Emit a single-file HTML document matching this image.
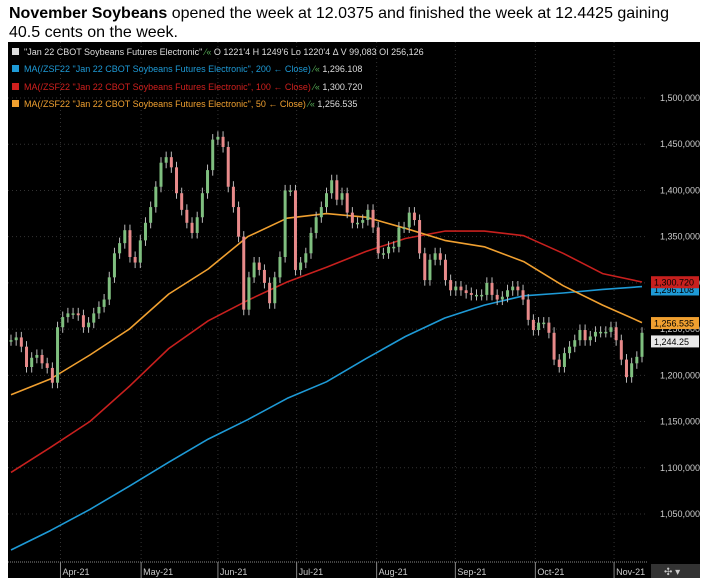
<!DOCTYPE html>
<html><head><meta charset="utf-8"><style>
body{margin:0;width:707px;height:586px;background:#fff;overflow:hidden;font-family:"Liberation Sans",Arial,sans-serif}
#title{position:absolute;left:9px;top:4px;font-size:16px;line-height:19px;color:#000;width:690px}
svg{position:absolute;left:0;top:0}
</style></head><body>
<div id="title"><b>November Soybeans</b> opened the week at 12.0375 and finished the week at 12.4425 gaining 40.5 cents on the week.</div>
<svg id="chart" width="707" height="586">
<rect x="8" y="42" width="692" height="536" fill="#000"/>
<g id="grid"></g>
<g id="mas"></g>
<g id="candles"></g>
<g id="yaxis"></g>
<g id="xaxis"></g>
<g font-size="9">
<g><rect x="12" y="48" width="7" height="7" fill="#ddd"/><text x="24" y="55" fill="#ddd">"Jan 22 CBOT Soybeans Futures Electronic" <tspan fill="#5a5">⁄«</tspan> O 1221'4  H 1249'6  Lo 1220'4  Δ    V 99,083  OI 256,126</text></g>
<g><rect x="12" y="65" width="7" height="7" fill="#1e9ad6"/><text x="24" y="72" fill="#1e9ad6">MA(/ZSF22 "Jan 22 CBOT Soybeans Futures Electronic", 200 ← Close) <tspan fill="#5a5">⁄«</tspan> <tspan fill="#ddd">1,296.108</tspan></text></g>
<g><rect x="12" y="83" width="7" height="7" fill="#d0201e"/><text x="24" y="90" fill="#d0201e">MA(/ZSF22 "Jan 22 CBOT Soybeans Futures Electronic", 100 ← Close) <tspan fill="#5a5">⁄«</tspan> <tspan fill="#ddd">1,300.720</tspan></text></g>
<g><rect x="12" y="100" width="7" height="7" fill="#f0a030"/><text x="24" y="107" fill="#f0a030">MA(/ZSF22 "Jan 22 CBOT Soybeans Futures Electronic", 50 ← Close) <tspan fill="#5a5">⁄«</tspan> <tspan fill="#ddd">1,256.535</tspan></text></g>
</g>
<g id="tags" font-size="9"></g>
<g><rect x="651" y="564" width="49" height="14" fill="#333"/><text x="664" y="575" fill="#ccc" font-size="10">✣  ▾</text></g>
</svg>
<script>
const yTicks=[1050,1100,1150,1200,1250,1300,1350,1400,1450,1500];
const months=["Apr-21","May-21","Jun-21","Jul-21","Aug-21","Sep-21","Oct-21","Nov-21"];
const monthPos=[0.082,0.208,0.328,0.451,0.576,0.699,0.824,0.947];
const closes=[1238,1241,1231,1209,1219,1222,1213,1208,1192,1252,1263,1267,1267,1265,1252,1257,1267,1274,1282,1306,1332,1343,1357,1328,1322,1346,1365,1382,1404,1430,1436,1425,1397,1379,1365,1354,1371,1397,1422,1455,1458,1447,1404,1382,1350,1271,1306,1322,1314,1300,1278,1306,1328,1400,1400,1314,1322,1332,1354,1371,1382,1397,1411,1390,1397,1376,1365,1365,1368,1379,1360,1332,1332,1339,1339,1360,1360,1376,1368,1332,1303,1325,1332,1325,1303,1292,1296,1292,1289,1287,1287,1287,1300,1287,1282,1285,1292,1296,1292,1282,1260,1249,1257,1257,1246,1217,1209,1224,1231,1238,1249,1238,1242,1247,1247,1247,1252,1238,1217,1198,1213,1220,1246];
const ma50=[1179,1196,1222,1250,1288,1315,1350,1370,1375,1371,1359,1346,1339,1323,1297,1276,1257];
const ma100=[1095,1122,1150,1188,1229,1259,1281,1301,1317,1334,1348,1356,1356,1351,1332,1310,1301];
const ma200=[1011,1032,1055,1080,1106,1131,1152,1175,1193,1218,1242,1262,1276,1286,1289,1293,1296];
const tagVals=[1300.72,1296.108,1256.535,1244.25];
const tagLabels=["1,300.720","1,296.108","1,256.535","1,244.25"];

const NS="http://www.w3.org/2000/svg";
const X0=11,X1=642;
const y=v=>98+(1500-v)*0.9244;
const xBar=i=>X0+i*(X1-X0)/(closes.length-1);
const xMA=(i,n)=>X0+i*(X1-X0)/(n-1);
const xFrac=f=>8+f*640;
function mk(t,a,p){const e=document.createElementNS(NS,t);for(const k in a)e.setAttribute(k,a[k]);p.appendChild(e);return e;}
const grid=document.getElementById('grid'),ya=document.getElementById('yaxis'),xa=document.getElementById('xaxis');
yTicks.forEach(v=>{
 const l=mk('line',{x1:8,x2:648,y1:y(v),y2:y(v),stroke:'#333','stroke-dasharray':'1,3'},grid);
 
 
 const t=mk('text',{x:660,y:y(v)+3,fill:'#ccc','font-size':'9'},ya);
 t.textContent=(v*1000).toLocaleString('en-US');
 
 
});
mk('line',{x1:8,x2:648,y1:562,y2:562,stroke:'#888','stroke-dasharray':'1,1'},xa);
months.forEach((m,i)=>{
 const x=xFrac(monthPos[i]);
 const l=mk('line',{x1:x,x2:x,y1:42,y2:560,stroke:'#333','stroke-dasharray':'1,3'},grid);
 
 
 mk('line',{x1:x,x2:x,y1:562,y2:578,stroke:'#888'},xa);
 const t=mk('text',{x:x+2,y:575,fill:'#ccc','font-size':'9'},xa);
 t.textContent=m;
 
 
});
const mas=document.getElementById('mas');
[[ma200,'#1e9ad6','ma200-line'],[ma100,'#c8201e','ma100-line'],[ma50,'#f0a030','ma50-line']].forEach(([arr,c,n])=>{
 const d=arr.map((v,i)=>(i?'L':'M')+xMA(i,arr.length).toFixed(1)+','+y(v).toFixed(1)).join(' ');
 const p=mk('path',{d:d,fill:'none',stroke:c,'stroke-width':1.6,'stroke-linejoin':'round'},mas);
 
 
});
const cg=document.getElementById('candles');
closes.forEach((c,i)=>{
 const o=i?closes[i-1]:c;
 const up=c>=o;
 const hi=Math.max(o,c)+6,lo=Math.min(o,c)-6;
 const x=xBar(i),col=up?'#7fbf7f':'#e88a8a';
 const w=mk('line',{x1:x,x2:x,y1:y(hi),y2:y(lo),stroke:'#bbb','stroke-width':1},cg);
 
 
 const h=Math.max(1.5,Math.abs(y(o)-y(c)));
 const r=mk('rect',{x:x-1.5,y:Math.min(y(o),y(c)),width:3,height:h,fill:col},cg);
 
 
});
const tg=document.getElementById('tags');
const tagCols=[['#c8201e','#000'],['#1e9ad6','#000'],['#f0a030','#000'],['#e8e8e8','#000']];
const order=[1,0,2,3];
order.forEach(i=>{
 const yy=y(tagVals[i])+(i==1?3:0)+(i==3?7:0);
 const r=mk('rect',{x:651,y:yy-6,width:48,height:12,fill:tagCols[i][0]},tg);
 
 
 const t=mk('text',{x:654,y:yy+3.5,fill:tagCols[i][1]},tg);
 t.textContent=tagLabels[i];
 
 
});
</script>
</body></html>
